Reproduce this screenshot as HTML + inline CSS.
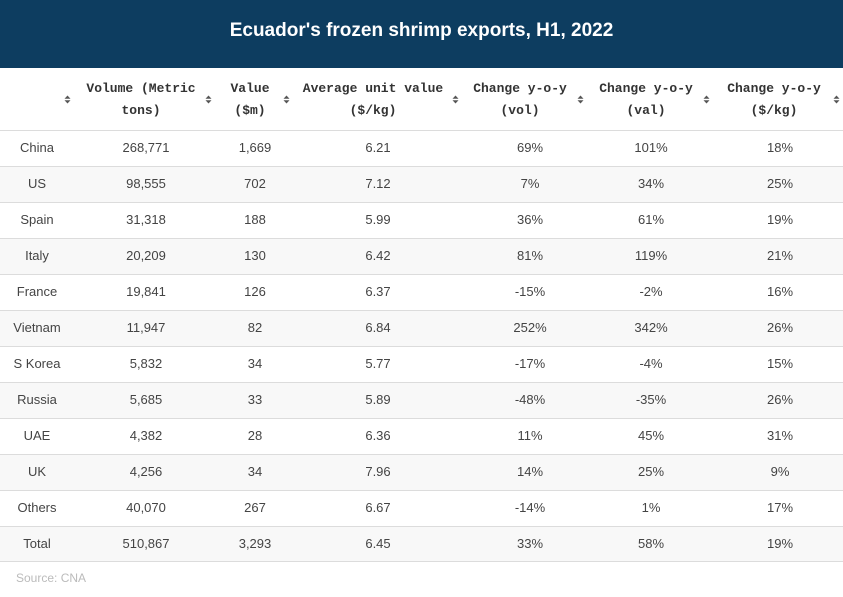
<!DOCTYPE html>
<html><head><meta charset="utf-8">
<style>
*{margin:0;padding:0;box-sizing:border-box}
html,body{width:843px;height:597px;background:#fff;overflow:hidden}
body{position:relative;font-family:"Liberation Sans",Arial,sans-serif}
.title{position:absolute;left:0;top:0;width:843px;height:68px;background:#0d3d60;color:#fff;font-weight:bold;font-size:19px;text-align:center;line-height:61px}
.hd{position:absolute;top:78px;width:200px;margin-left:-100px;text-align:center;font-family:"Liberation Mono",monospace;font-weight:bold;font-size:13px;line-height:22px;color:#333}
.ic{position:absolute;top:95px;width:7px;margin-left:-3px}
.row{position:absolute;left:0;width:843px;height:36px;border-top:1px solid #dcdcdc}
.row.s{background:#f8f8f8}
.row span{position:absolute;top:0;width:140px;margin-left:-70px;text-align:center;line-height:34px;font-size:13px;color:#444}
.c1{left:37px}.c2{left:146px}.c3{left:255px}.c4{left:378px}.c5{left:530px}.c6{left:651px}.c7{left:780px}
.bot{position:absolute;left:0;top:561px;width:843px;height:1px;background:#dcdcdc}
.src{position:absolute;left:16px;top:571px;font-size:12px;color:#bbb}
</style></head><body>
<div class="title">Ecuador's frozen shrimp exports, H1, 2022</div>

<div class="hd" style="left:141px">Volume (Metric<br>tons)</div>
<div class="hd" style="left:250px">Value<br>($m)</div>
<div class="hd" style="left:373px">Average unit value<br>($/kg)</div>
<div class="hd" style="left:520px">Change y-o-y<br>(vol)</div>
<div class="hd" style="left:646px">Change y-o-y<br>(val)</div>
<div class="hd" style="left:774px">Change y-o-y<br>($/kg)</div>

<svg class="ic" style="left:67px" width="7" height="9" viewBox="0 0 7 9"><path d="M0.5 3.8L3.5 0.5L6.5 3.8Z M0.5 5.2L3.5 8.5L6.5 5.2Z" fill="#555"/></svg>
<svg class="ic" style="left:208px" width="7" height="9" viewBox="0 0 7 9"><path d="M0.5 3.8L3.5 0.5L6.5 3.8Z M0.5 5.2L3.5 8.5L6.5 5.2Z" fill="#555"/></svg>
<svg class="ic" style="left:286px" width="7" height="9" viewBox="0 0 7 9"><path d="M0.5 3.8L3.5 0.5L6.5 3.8Z M0.5 5.2L3.5 8.5L6.5 5.2Z" fill="#555"/></svg>
<svg class="ic" style="left:455px" width="7" height="9" viewBox="0 0 7 9"><path d="M0.5 3.8L3.5 0.5L6.5 3.8Z M0.5 5.2L3.5 8.5L6.5 5.2Z" fill="#555"/></svg>
<svg class="ic" style="left:580px" width="7" height="9" viewBox="0 0 7 9"><path d="M0.5 3.8L3.5 0.5L6.5 3.8Z M0.5 5.2L3.5 8.5L6.5 5.2Z" fill="#555"/></svg>
<svg class="ic" style="left:706px" width="7" height="9" viewBox="0 0 7 9"><path d="M0.5 3.8L3.5 0.5L6.5 3.8Z M0.5 5.2L3.5 8.5L6.5 5.2Z" fill="#555"/></svg>
<svg class="ic" style="left:836px" width="7" height="9" viewBox="0 0 7 9"><path d="M0.5 3.8L3.5 0.5L6.5 3.8Z M0.5 5.2L3.5 8.5L6.5 5.2Z" fill="#555"/></svg>

<div class="row" style="top:130px"><span class="c1">China</span><span class="c2">268,771</span><span class="c3">1,669</span><span class="c4">6.21</span><span class="c5">69%</span><span class="c6">101%</span><span class="c7">18%</span></div>
<div class="row s" style="top:166px"><span class="c1">US</span><span class="c2">98,555</span><span class="c3">702</span><span class="c4">7.12</span><span class="c5">7%</span><span class="c6">34%</span><span class="c7">25%</span></div>
<div class="row" style="top:202px"><span class="c1">Spain</span><span class="c2">31,318</span><span class="c3">188</span><span class="c4">5.99</span><span class="c5">36%</span><span class="c6">61%</span><span class="c7">19%</span></div>
<div class="row s" style="top:238px"><span class="c1">Italy</span><span class="c2">20,209</span><span class="c3">130</span><span class="c4">6.42</span><span class="c5">81%</span><span class="c6">119%</span><span class="c7">21%</span></div>
<div class="row" style="top:274px"><span class="c1">France</span><span class="c2">19,841</span><span class="c3">126</span><span class="c4">6.37</span><span class="c5">-15%</span><span class="c6">-2%</span><span class="c7">16%</span></div>
<div class="row s" style="top:310px"><span class="c1">Vietnam</span><span class="c2">11,947</span><span class="c3">82</span><span class="c4">6.84</span><span class="c5">252%</span><span class="c6">342%</span><span class="c7">26%</span></div>
<div class="row" style="top:346px"><span class="c1">S Korea</span><span class="c2">5,832</span><span class="c3">34</span><span class="c4">5.77</span><span class="c5">-17%</span><span class="c6">-4%</span><span class="c7">15%</span></div>
<div class="row s" style="top:382px"><span class="c1">Russia</span><span class="c2">5,685</span><span class="c3">33</span><span class="c4">5.89</span><span class="c5">-48%</span><span class="c6">-35%</span><span class="c7">26%</span></div>
<div class="row" style="top:418px"><span class="c1">UAE</span><span class="c2">4,382</span><span class="c3">28</span><span class="c4">6.36</span><span class="c5">11%</span><span class="c6">45%</span><span class="c7">31%</span></div>
<div class="row s" style="top:454px"><span class="c1">UK</span><span class="c2">4,256</span><span class="c3">34</span><span class="c4">7.96</span><span class="c5">14%</span><span class="c6">25%</span><span class="c7">9%</span></div>
<div class="row" style="top:490px"><span class="c1">Others</span><span class="c2">40,070</span><span class="c3">267</span><span class="c4">6.67</span><span class="c5">-14%</span><span class="c6">1%</span><span class="c7">17%</span></div>
<div class="row s" style="top:526px"><span class="c1">Total</span><span class="c2">510,867</span><span class="c3">3,293</span><span class="c4">6.45</span><span class="c5">33%</span><span class="c6">58%</span><span class="c7">19%</span></div>
<div class="bot"></div>
<div class="src">Source: CNA</div>
</body></html>
